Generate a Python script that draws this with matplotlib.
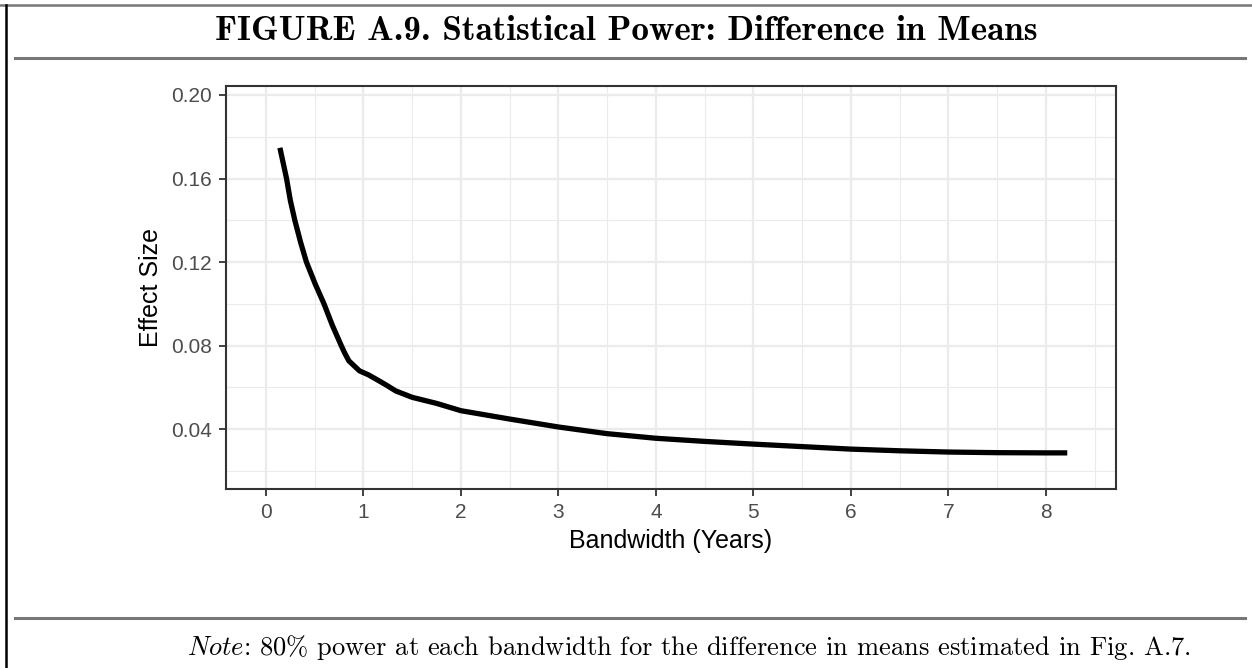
#!/usr/bin/env python3

import matplotlib

matplotlib.use("Agg")

import matplotlib.pyplot as plt
from matplotlib.lines import Line2D
from matplotlib.ticker import MultipleLocator

# values
bandwidth = [0.143, 0.211, 0.25, 0.296, 0.355, 0.415, 0.505, 0.595, 0.68, 0.772, 0.81, 0.85,
             0.959, 1.05, 1.13, 1.23, 1.33, 1.5, 1.75, 2.0, 2.5, 3.0, 3.5, 4.0,
             4.5, 5.0, 5.5, 6.0, 6.5, 7.0, 7.5, 8.0, 8.22]
effect_size = [0.1747, 0.160, 0.1495, 0.140, 0.1295, 0.120, 0.1095, 0.100, 0.0898, 0.080, 0.0762,
               0.0727, 0.0679, 0.0660, 0.0639, 0.0612, 0.0583, 0.0552, 0.0523, 0.0488, 0.0448,
               0.0410, 0.0378, 0.0356, 0.0341, 0.0328, 0.0316, 0.0304, 0.0296, 0.0290, 0.0287,
               0.0286, 0.0286]

x_ticks = [0, 1, 2, 3, 4, 5, 6, 7, 8]
y_ticks = [0.04, 0.08, 0.12, 0.16, 0.20]
y_tick_labels = ["0.04", "0.08", "0.12", "0.16", "0.20"]

title = "FIGURE A.9. Statistical Power: Difference in Means"
note = r"$\mathit{Note}$: 80% power at each bandwidth for the difference in means estimated in Fig. A.7."

plt.rcParams["mathtext.fontset"] = "cm"

W, H = 1252, 668
fig = plt.figure(figsize=(W / 100, H / 100), dpi=100)
fig.patch.set_facecolor("white")

ax = fig.add_axes([226 / W, 1 - 489 / H, (1116 - 226) / W, (489 - 86) / H])
ax.set_facecolor("white")

ax.set_xlim(-0.41, 8.72)
ax.set_ylim(0.0113, 0.2043)
ax.xaxis.set_minor_locator(MultipleLocator(0.5))
ax.yaxis.set_minor_locator(MultipleLocator(0.02))
ax.set_xticks(x_ticks)
ax.set_yticks(y_ticks)
ax.set_yticklabels(y_tick_labels)

ax.grid(which="major", color="#EBEBEB", linewidth=1.6)
ax.grid(which="minor", color="#EBEBEB", linewidth=0.8)
ax.set_axisbelow(True)

ax.plot(bandwidth, effect_size, color="black", linewidth=3.8,
        solid_capstyle="butt", solid_joinstyle="round", zorder=3)

for spine in ax.spines.values():
    spine.set_color("#333333")
    spine.set_linewidth(1.5)

ax.tick_params(which="major", length=5, width=1.3, color="#333333",
               labelsize=15, labelcolor="#4D4D4D", pad=5)
ax.tick_params(which="minor", length=0)
for lab in ax.get_xticklabels() + ax.get_yticklabels():
    lab.set_fontfamily("Liberation Sans")

ax.set_xlabel("Bandwidth (Years)", fontsize=18, family="Liberation Sans", labelpad=5)
ax.set_ylabel("Effect Size", fontsize=18, family="Liberation Sans", labelpad=6)

# frame lines around the figure
fig.add_artist(Line2D([0, 1], [1 - 5 / H, 1 - 5 / H], color="#777777", linewidth=1.8))
fig.add_artist(Line2D([6 / W, 6 / W], [0, 1 - 5 / H], color="black", linewidth=1.8))
fig.add_artist(Line2D([15 / W, 1245 / W], [1 - 58 / H, 1 - 58 / H], color="#777777", linewidth=2.2))
fig.add_artist(Line2D([15 / W, 1245 / W], [1 - 618 / H, 1 - 618 / H], color="#777777", linewidth=2.2))

fig.text(626 / W, 1 - 31 / H, title, ha="center", va="center", fontsize=25.3, family="cmb10")
fig.text(689 / W, 1 - 648 / H, note, ha="center", va="center", fontsize=19.1, family="cmr10")

fig.savefig("out.png", dpi=100)
